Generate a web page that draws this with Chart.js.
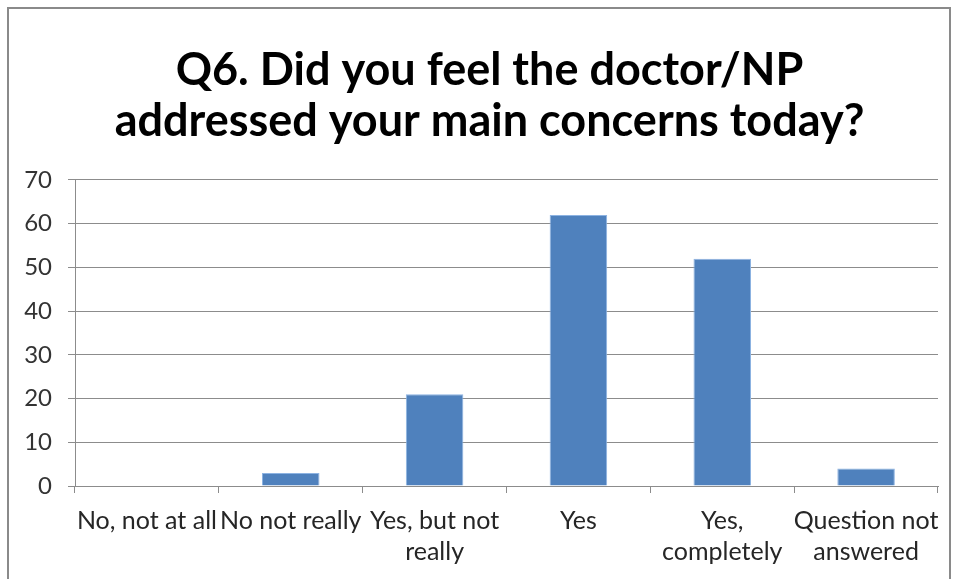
<!DOCTYPE html>
<html>
<head>
<meta charset="utf-8">
<script src="https://cdn.jsdelivr.net/npm/chart.js@4"></script>
<style>
  html, body { margin: 0; padding: 0; background: #fff; overflow: hidden; }
  #frame {
    position: absolute;
    left: 7px;
    top: 7px;
    width: 940px;
    height: 580px;
    border: 2px solid #8a8a8a;
    background: #fff;
  }
  canvas { display: block; }
</style>
</head>
<body>
<div id="frame">
  <canvas id="chart" width="940" height="580"></canvas>
</div>
<script>
const titleLines = ["Q6. Did you feel the doctor/NP", "addressed your main concerns today?"];
const categories = [
  "No, not at all",
  "No not really",
  ["Yes, but not", "really"],
  "Yes",
  ["Yes,", "completely"],
  ["Question not", "answered"]
];
const responses = [0, 3, 21, 62, 52, 4];
const yMin = 0;
const yMax = 70;
const yStep = 10;

const gridColor = "#8c8c8c";

// the title sits a little right of the canvas centre
const titleShift = {
  id: "titleShift",
  afterLayout(chart) {
    const t = chart.titleBlock;
    if (t) {
      t.left += 16;
      t.right += 16;
    }
  }
};

const ctx = document.getElementById("chart").getContext("2d");
new Chart(ctx, {
  type: "bar",
  data: {
    labels: categories,
    datasets: [{
      data: responses,
      backgroundColor: "#4f81bd",
      borderColor: "#8db3e2",
      borderWidth: 1,
      barPercentage: 0.4,
      categoryPercentage: 1
    }]
  },
  options: {
    responsive: false,
    animation: false,
    layout: {
      padding: { left: 0, right: 11, top: 0, bottom: 10 }
    },
    plugins: {
      legend: { display: false },
      tooltip: { enabled: false },
      title: {
        display: true,
        text: titleLines,
        color: "#000",
        font: { family: "Lato", size: 45, weight: "bold", lineHeight: 1.155 },
        padding: { top: 35, bottom: 32 }
      }
    },
    scales: {
      x: {
        grid: {
          offset: true,
          drawOnChartArea: false,
          drawTicks: true,
          tickLength: 7,
          color: gridColor
        },
        border: { color: gridColor, width: 1 },
        ticks: {
          autoSkip: false,
          maxRotation: 0,
          color: "#262626",
          padding: 12,
          font: { family: "Lato", size: 25, lineHeight: 1.24 }
        },
        afterFit(scale) {
          // let the last label run to the edge instead of shrinking the plot
          scale.paddingRight = 0;
        }
      },
      y: {
        min: yMin,
        max: yMax,
        grid: {
          color: gridColor,
          tickLength: 7
        },
        border: { color: gridColor, width: 1 },
        ticks: {
          stepSize: yStep,
          color: "#333",
          padding: 16,
          font: { family: "Lato", size: 24 }
        },
        afterFit(scale) {
          scale.width = 66;
        }
      }
    }
  },
  plugins: [titleShift]
});
</script>
</body>
</html>
